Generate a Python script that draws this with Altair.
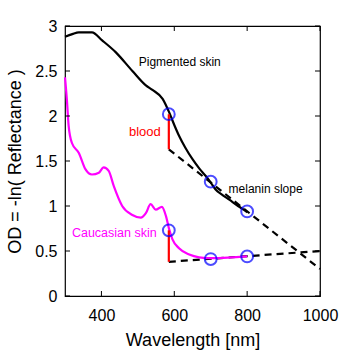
import altair as alt
import pandas as pd

# Pigmented skin curve
pig_wl = [300, 320, 338, 374, 402, 439, 485, 522, 540, 568, 586, 600, 613, 630, 650, 670, 687, 700, 714, 730, 751, 775, 797, 800]
pig_od = [2.88, 2.91, 2.93, 2.93, 2.84, 2.71, 2.50, 2.34, 2.29, 2.19, 2.04, 1.90, 1.78, 1.65, 1.52, 1.41, 1.33, 1.26, 1.18, 1.13, 1.07, 1.00, 0.94, 0.93]

# Caucasian skin curve
cau_wl = [300, 305, 310, 319, 338, 356, 374, 393, 406, 420, 434, 457, 485, 508, 522, 535, 549, 566, 577, 586, 595, 613, 641, 668, 705, 760, 800]
cau_od = [2.43, 2.19, 1.89, 1.70, 1.59, 1.41, 1.35, 1.37, 1.43, 1.39, 1.22, 1.00, 0.90, 0.87, 0.92, 1.02, 0.96, 0.99, 0.89, 0.74, 0.63, 0.53, 0.46, 0.43, 0.42, 0.43, 0.44]

# Sample points (circles)
pt_wl = [585, 700, 800, 585, 700, 800]
pt_od = [2.02, 1.27, 0.94, 0.73, 0.41, 0.44]

# Blood (red vertical segments)
blood_wl = [585, 585]
blood_top = [2.02, 0.73]
blood_bot = [1.63, 0.38]

# Dashed baseline fits
fit_group = ["melanin", "melanin", "cau", "cau"]
fit_wl = [585, 1000, 585, 1000]
fit_od = [1.63, 0.30, 0.38, 0.50]

# Tick values
x_ticks = [400, 600, 800, 1000]
y_ticks = [0, 0.5, 1, 1.5, 2, 2.5, 3]

# Text labels
lab_text = ["Pigmented skin", "blood", "melanin slope", "Caucasian skin"]
lab_wl = [615, 563, 749, 319]
lab_od = [2.60, 1.82, 1.19, 0.70]
lab_color = ["black", "#ff0000", "black", "#ff00ff"]
lab_align = ["center", "right", "left", "left"]
lab_size = [12, 13, 12, 12.5]

FONT = "Liberation Sans"
W, H = 255, 270

xs = alt.Scale(domain=[300, 1000], nice=False)
ys = alt.Scale(domain=[0, 3], nice=False)

xax = alt.Axis(values=x_ticks, format="d", tickSize=0, domain=False, grid=False, labelFontSize=16,
               labelPadding=11, labelFont=FONT, title="Wavelength [nm]", titleFont=FONT,
               titleFontSize=18, titleFontWeight="normal", titlePadding=8, labelColor="black",
               titleColor="black", labelFlush=False, labelOverlap=False)
yax = alt.Axis(values=y_ticks, format="~g", tickSize=0, domain=False, grid=False, labelFontSize=16,
               labelPadding=8, labelFont=FONT, title="OD = -ln( Reflectance )", titleFont=FONT,
               titleFontSize=18, titleFontWeight="normal", titlePadding=10, labelColor="black",
               titleColor="black", labelFlush=False, labelOverlap=False)

pig = pd.DataFrame({"wl": pig_wl, "od": pig_od})
cau = pd.DataFrame({"wl": cau_wl, "od": cau_od})
pts = pd.DataFrame({"wl": pt_wl, "od": pt_od})
blood = pd.DataFrame({"wl": blood_wl, "top": blood_top, "bot": blood_bot})
fits = pd.DataFrame({"g": fit_group, "wl": fit_wl, "od": fit_od})
labs = pd.DataFrame({"t": lab_text, "wl": lab_wl, "od": lab_od})
xt = pd.DataFrame({"v": x_ticks})
yt = pd.DataFrame({"v": y_ticks})

base_x = alt.X("wl:Q", scale=xs, axis=xax)
base_y = alt.Y("od:Q", scale=ys, axis=yax)

fit_layer = alt.Chart(fits).mark_line(color="black", strokeWidth=2.2, strokeDash=[7, 5]).encode(
    x=base_x, y=base_y, detail="g:N")
pig_layer = alt.Chart(pig).mark_line(color="black", strokeWidth=2.2, interpolate="monotone").encode(
    x="wl:Q", y="od:Q")
cau_layer = alt.Chart(cau).mark_line(color="#ff00ff", strokeWidth=2.2, interpolate="monotone").encode(
    x="wl:Q", y="od:Q")
blood_layer = alt.Chart(blood).mark_rule(color="#ff0000", strokeWidth=2.2).encode(
    x="wl:Q", y="top:Q", y2="bot:Q")
pt_layer = alt.Chart(pts).mark_point(shape="circle", filled=False, color="#0000ff", size=140,
                                     strokeWidth=2).encode(x="wl:Q", y="od:Q")

def txt(i):
    d = labs.iloc[[i]]
    return alt.Chart(d).mark_text(font=FONT, fontSize=lab_size[i], align=lab_align[i], baseline="middle",
                                  color=lab_color[i]).encode(x="wl:Q", y="od:Q", text="t:N")

text_layers = [txt(i) for i in range(len(lab_text))]

tick_len = 5
xb = alt.Chart(xt).mark_rule(color="black", strokeWidth=1).encode(
    x=alt.X("v:Q", scale=xs), y=alt.value(H), y2=alt.value(H - tick_len))
xtp = alt.Chart(xt).mark_rule(color="black", strokeWidth=1).encode(
    x=alt.X("v:Q", scale=xs), y=alt.value(0), y2=alt.value(tick_len))
yl = alt.Chart(yt).mark_rule(color="black", strokeWidth=1).encode(
    y=alt.Y("v:Q", scale=ys), x=alt.value(0), x2=alt.value(tick_len))
yr = alt.Chart(yt).mark_rule(color="black", strokeWidth=1).encode(
    y=alt.Y("v:Q", scale=ys), x=alt.value(W), x2=alt.value(W - tick_len))

chart = alt.layer(fit_layer, pig_layer, cau_layer, blood_layer, pt_layer, *text_layers,
                  xb, xtp, yl, yr).properties(
    width=W, height=H,
    autosize=alt.AutoSizeParams(type="none"),
    padding={"left": 65, "top": 26, "right": 34, "bottom": 59},
    background="white",
).configure_view(stroke="black", strokeWidth=1.2, clip=False)

chart.save("out.html", embed_options={"renderer": "svg", "actions": False})
